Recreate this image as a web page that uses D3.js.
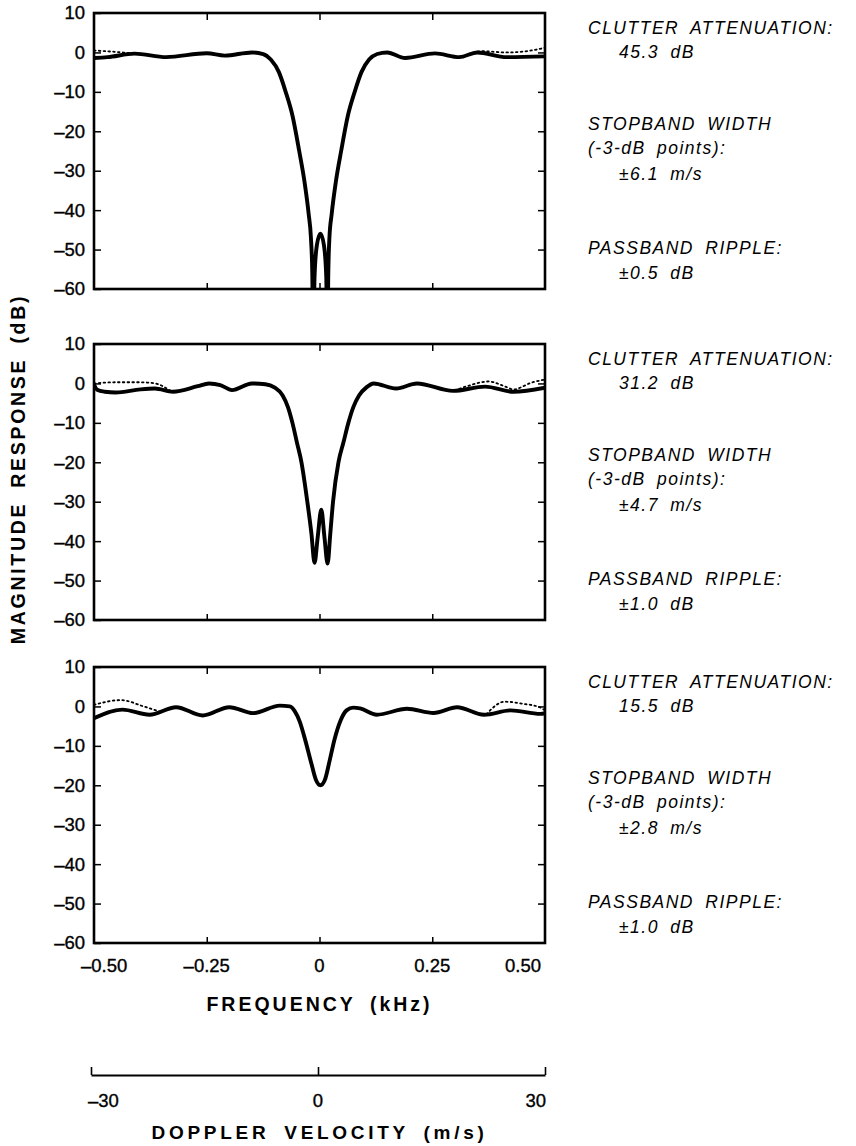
<!DOCTYPE html>
<html>
<head>
<meta charset="utf-8">
<script src="https://cdn.jsdelivr.net/npm/d3@7"></script>
<style>
  html, body { margin: 0; padding: 0; background: #fff; }
  svg { display: block; }
  text { font-family: "Liberation Sans", Arial, sans-serif; fill: #000; }
</style>
</head>
<body>
<svg id="chart" width="856" height="1146"></svg>
<script>
// ---------------- DATA ----------------
const yTicks = [10, 0, -10, -20, -30, -40, -50, -60];
const xTicks = [-0.5, -0.25, 0, 0.25, 0.5];
const xTickLabels = ["\u20130.50", "\u20130.25", "0", "0.25", "0.50"];
const velTicks = [-30, 0, 30];
const velTickLabels = ["\u201330", "0", "30"];

// Top panel (solid: filter response, dotted: reference response)
const topFreq = [-0.5,-0.47,-0.41,-0.34,-0.25,-0.21,-0.15,-0.125,-0.108,-0.09,-0.075,-0.06,-0.045,-0.033,-0.024,-0.019,-0.016,-0.014,-0.011,-0.006,0.002,0.01,0.015,0.0175,0.0195,0.022,0.027,0.036,0.048,0.063,0.078,0.093,0.11,0.128,0.15,0.19,0.256,0.31,0.35,0.415,0.5];
const topDb   = [-1.4,-1.2,-0.3,-1.2,-0.2,-0.8,0,-0.4,-1.8,-5,-10,-16,-25,-33,-41,-47,-56,-75,-57,-49,-46,-49,-57,-75,-56,-47,-41,-33,-25,-16,-10,-5,-1.8,-0.4,0,-1.4,-0.25,-1.2,0,-1.2,-1.0];
const topDotLFreq = [-0.5,-0.46,-0.41];
const topDotLDb   = [0.5,0.2,-0.3];
const topDotRFreq = [0.33,0.36,0.415,0.47,0.5];
const topDotRDb   = [-0.4,0.3,0,0.5,1.2];

// Middle panel
const midFreq = [-0.5,-0.493,-0.476,-0.452,-0.397,-0.365,-0.325,-0.27,-0.245,-0.22,-0.194,-0.15,-0.12,-0.1,-0.082,-0.07,-0.06,-0.05,-0.04,-0.027,-0.018,-0.011,-0.004,0.004,0.011,0.018,0.024,0.03,0.042,0.053,0.064,0.075,0.088,0.104,0.12,0.17,0.216,0.296,0.367,0.43,0.5];
const midDb   = [-0.2,-1.6,-2.1,-2.3,-1.5,-1.3,-2.1,-0.7,0,-0.4,-1.7,0,-0.2,-1,-3,-6,-10,-15,-20,-30,-38,-45.5,-39,-32,-39,-45.7,-38,-30,-20,-15,-10,-6,-3,-1,0,-1.3,0,-1.9,-0.8,-2.1,-1.1];
const midDotLFreq = [-0.5,-0.45,-0.40,-0.365,-0.33];
const midDotLDb   = [0,0.3,0.3,0,-1.9];
const midDotRFreq = [0.3,0.33,0.375,0.41,0.43,0.47,0.5];
const midDotRDb   = [-1.8,-0.6,0.5,-0.7,-1.5,0.2,1.0];

// Bottom panel
const botFreq = [-0.5,-0.437,-0.377,-0.318,-0.259,-0.2,-0.147,-0.088,-0.066,-0.055,-0.044,-0.031,-0.018,-0.008,0.002,0.012,0.022,0.033,0.047,0.06,0.075,0.09,0.127,0.194,0.253,0.305,0.365,0.424,0.49,0.5];
const botDb   = [-3,-0.8,-2.1,-0.2,-2.3,-0.2,-1.7,0.2,0,-1.2,-3.8,-8.8,-14.5,-18.6,-20,-18.6,-14,-8.5,-3.5,-1,-0.3,-0.5,-2.1,-0.6,-1.65,-0.2,-2.1,-1.0,-1.9,-1.7];
const botDotLFreq = [-0.5,-0.44,-0.39,-0.355];
const botDotLDb   = [0.4,1.6,0,-1.3];
const botDotRFreq = [0.37,0.41,0.45,0.49,0.5];
const botDotRDb   = [-2,1.2,0.7,-0.3,-1.0];

// Annotations
const attenuation = ["45.3 dB", "31.2 dB", "15.5 dB"];
const stopband    = ["\u00B16.1 m/s", "\u00B14.7 m/s", "\u00B12.8 m/s"];
const ripple      = ["\u00B10.5 dB", "\u00B11.0 dB", "\u00B11.0 dB"];

// ---------------- LAYOUT ----------------
const svg = d3.select("#chart");
const xLeft = 94, xRight = 545;
const panelTops = [13, 344, 667];
const panelH = 276;

const x = d3.scaleLinear().domain([-0.5, 0.5]).range([xLeft, xRight]);
const zip = (f, d) => f.map((v, i) => ({ f: v, db: d[i] }));
const fmtY = d => (d < 0 ? "\u2013" + Math.abs(d) : String(d));

const panels = [
  { solid: zip(topFreq, topDb), dots: [zip(topDotLFreq, topDotLDb), zip(topDotRFreq, topDotRDb)] },
  { solid: zip(midFreq, midDb), dots: [zip(midDotLFreq, midDotLDb), zip(midDotRFreq, midDotRDb)] },
  { solid: zip(botFreq, botDb), dots: [zip(botDotLFreq, botDotLDb), zip(botDotRFreq, botDotRDb)] }
];

const defs = svg.append("defs");

panels.forEach((p, i) => {
  const top = panelTops[i];
  const y = d3.scaleLinear().domain([-60, 10]).range([top + panelH, top]);
  const g = svg.append("g");

  defs.append("clipPath").attr("id", "clip" + i)
    .append("rect").attr("x", xLeft).attr("y", top).attr("width", xRight - xLeft).attr("height", panelH);

  const line = d3.line().x(d => x(d.f)).y(d => y(d.db)).curve(d3.curveMonotoneX);
  const plot = g.append("g").attr("clip-path", "url(#clip" + i + ")");

  p.dots.forEach(seg => {
    plot.append("path").datum(seg).attr("d", line)
      .attr("fill", "none").attr("stroke", "#000").attr("stroke-width", 1.8)
      .attr("stroke-dasharray", "1.6,3.2").attr("stroke-linecap", "round");
  });
  plot.append("path").datum(p.solid).attr("d", line)
    .attr("fill", "none").attr("stroke", "#000").attr("stroke-width", 3.9)
    .attr("stroke-linejoin", "round");

  // Axes (inside ticks)
  const left = g.append("g").attr("transform", `translate(${xLeft},0)`)
    .call(d3.axisLeft(y).tickValues(yTicks).tickSize(-7).tickPadding(9).tickFormat(fmtY));
  left.select(".domain").remove();
  left.selectAll("text").attr("font-size", 18.5).attr("x", -9)
    .style("font-family", "Liberation Sans, Arial, sans-serif")
    .attr("stroke", "#000").attr("stroke-width", 0.35);
  left.selectAll("line").attr("stroke-width", 1.5);

  const right = g.append("g").attr("transform", `translate(${xRight},0)`)
    .call(d3.axisRight(y).tickValues(yTicks.slice(1, -1)).tickSize(-7).tickFormat(""));
  right.select(".domain").remove();
  right.selectAll("line").attr("stroke-width", 1.5);

  const topAx = g.append("g").attr("transform", `translate(0,${top})`)
    .call(d3.axisTop(x).tickValues(xTicks.slice(1, -1)).tickSize(-7).tickFormat(""));
  topAx.select(".domain").remove();
  topAx.selectAll("line").attr("stroke-width", 1.5);

  const botAx = g.append("g").attr("transform", `translate(0,${top + panelH})`)
    .call(d3.axisBottom(x).tickValues(xTicks.slice(1, -1)).tickSize(-6).tickFormat(""));
  botAx.select(".domain").remove();
  botAx.selectAll("line").attr("stroke-width", 1.5);

  // frame
  g.append("rect").attr("x", xLeft).attr("y", top).attr("width", xRight - xLeft).attr("height", panelH)
    .attr("fill", "none").attr("stroke", "#000").attr("stroke-width", 2.6);

  // annotations
  const ann = [
    { t: "CLUTTER ATTENUATION:", dx: 588, dy: 14 },
    { t: attenuation[i], dx: 619, dy: 38 },
    { t: "STOPBAND WIDTH", dx: 588, dy: 110 },
    { t: "(-3-dB points):", dx: 588, dy: 134 },
    { t: stopband[i], dx: 619, dy: 160 },
    { t: "PASSBAND RIPPLE:", dx: 588, dy: 234 },
    { t: ripple[i], dx: 619, dy: 259 }
  ];
  g.selectAll("text.ann").data(ann).join("text").attr("class", "ann")
    .attr("x", d => d.dx).attr("y", d => top + d.dy + 6.5)
    .attr("font-size", 17.5).attr("font-style", "italic")
    .attr("letter-spacing", 1.5).attr("word-spacing", 5)
    .text(d => d.t);
});

// Frequency tick labels
const lastBottom = panelTops[2] + panelH;
svg.append("g").selectAll("text").data(xTicks).join("text")
  .attr("x", (d, i) => i === 0 ? x(d) - 13 : i === xTicks.length - 1 ? x(d) - 4 : x(d))
  .attr("y", lastBottom + 29)
  .attr("text-anchor", (d, i) => i === 0 ? "start" : i === xTicks.length - 1 ? "end" : "middle")
  .attr("font-size", 18.5).attr("stroke", "#000").attr("stroke-width", 0.35)
  .text((d, i) => xTickLabels[i]);

svg.append("text").attr("x", x(0)).attr("y", 1011).attr("text-anchor", "middle")
  .attr("font-size", 19.5).attr("font-weight", "bold").attr("letter-spacing", 3).attr("word-spacing", 6)
  .text("FREQUENCY (kHz)");

// Doppler velocity axis
const v = d3.scaleLinear().domain([-30, 30]).range([91, 545]);
const velAx = svg.append("g").attr("transform", "translate(0,1075)")
  .call(d3.axisTop(v).tickValues(velTicks).tickSize(8).tickSizeOuter(0).tickFormat(""));
velAx.select(".domain").attr("stroke-width", 2.2);
velAx.selectAll("line").attr("stroke-width", 1.6);
svg.append("g").selectAll("text").data(velTicks).join("text")
  .attr("x", (d, i) => i === 0 ? v(d) - 3 : i === velTicks.length - 1 ? v(d) + 1 : v(d))
  .attr("y", 1107)
  .attr("text-anchor", (d, i) => i === 0 ? "start" : i === velTicks.length - 1 ? "end" : "middle")
  .attr("font-size", 18.5).attr("stroke", "#000").attr("stroke-width", 0.35)
  .text((d, i) => velTickLabels[i]);

svg.append("text").attr("x", x(0)).attr("y", 1139).attr("text-anchor", "middle")
  .attr("font-size", 19).attr("font-weight", "bold").attr("letter-spacing", 3.7).attr("word-spacing", 6)
  .text("DOPPLER VELOCITY (m/s)");

// Y-axis title
svg.append("text").attr("transform", "translate(25,469) rotate(-90)").attr("text-anchor", "middle")
  .attr("font-size", 19.5).attr("font-weight", "bold").attr("letter-spacing", 2.7).attr("word-spacing", 6)
  .text("MAGNITUDE RESPONSE (dB)");
</script>
</body>
</html>
